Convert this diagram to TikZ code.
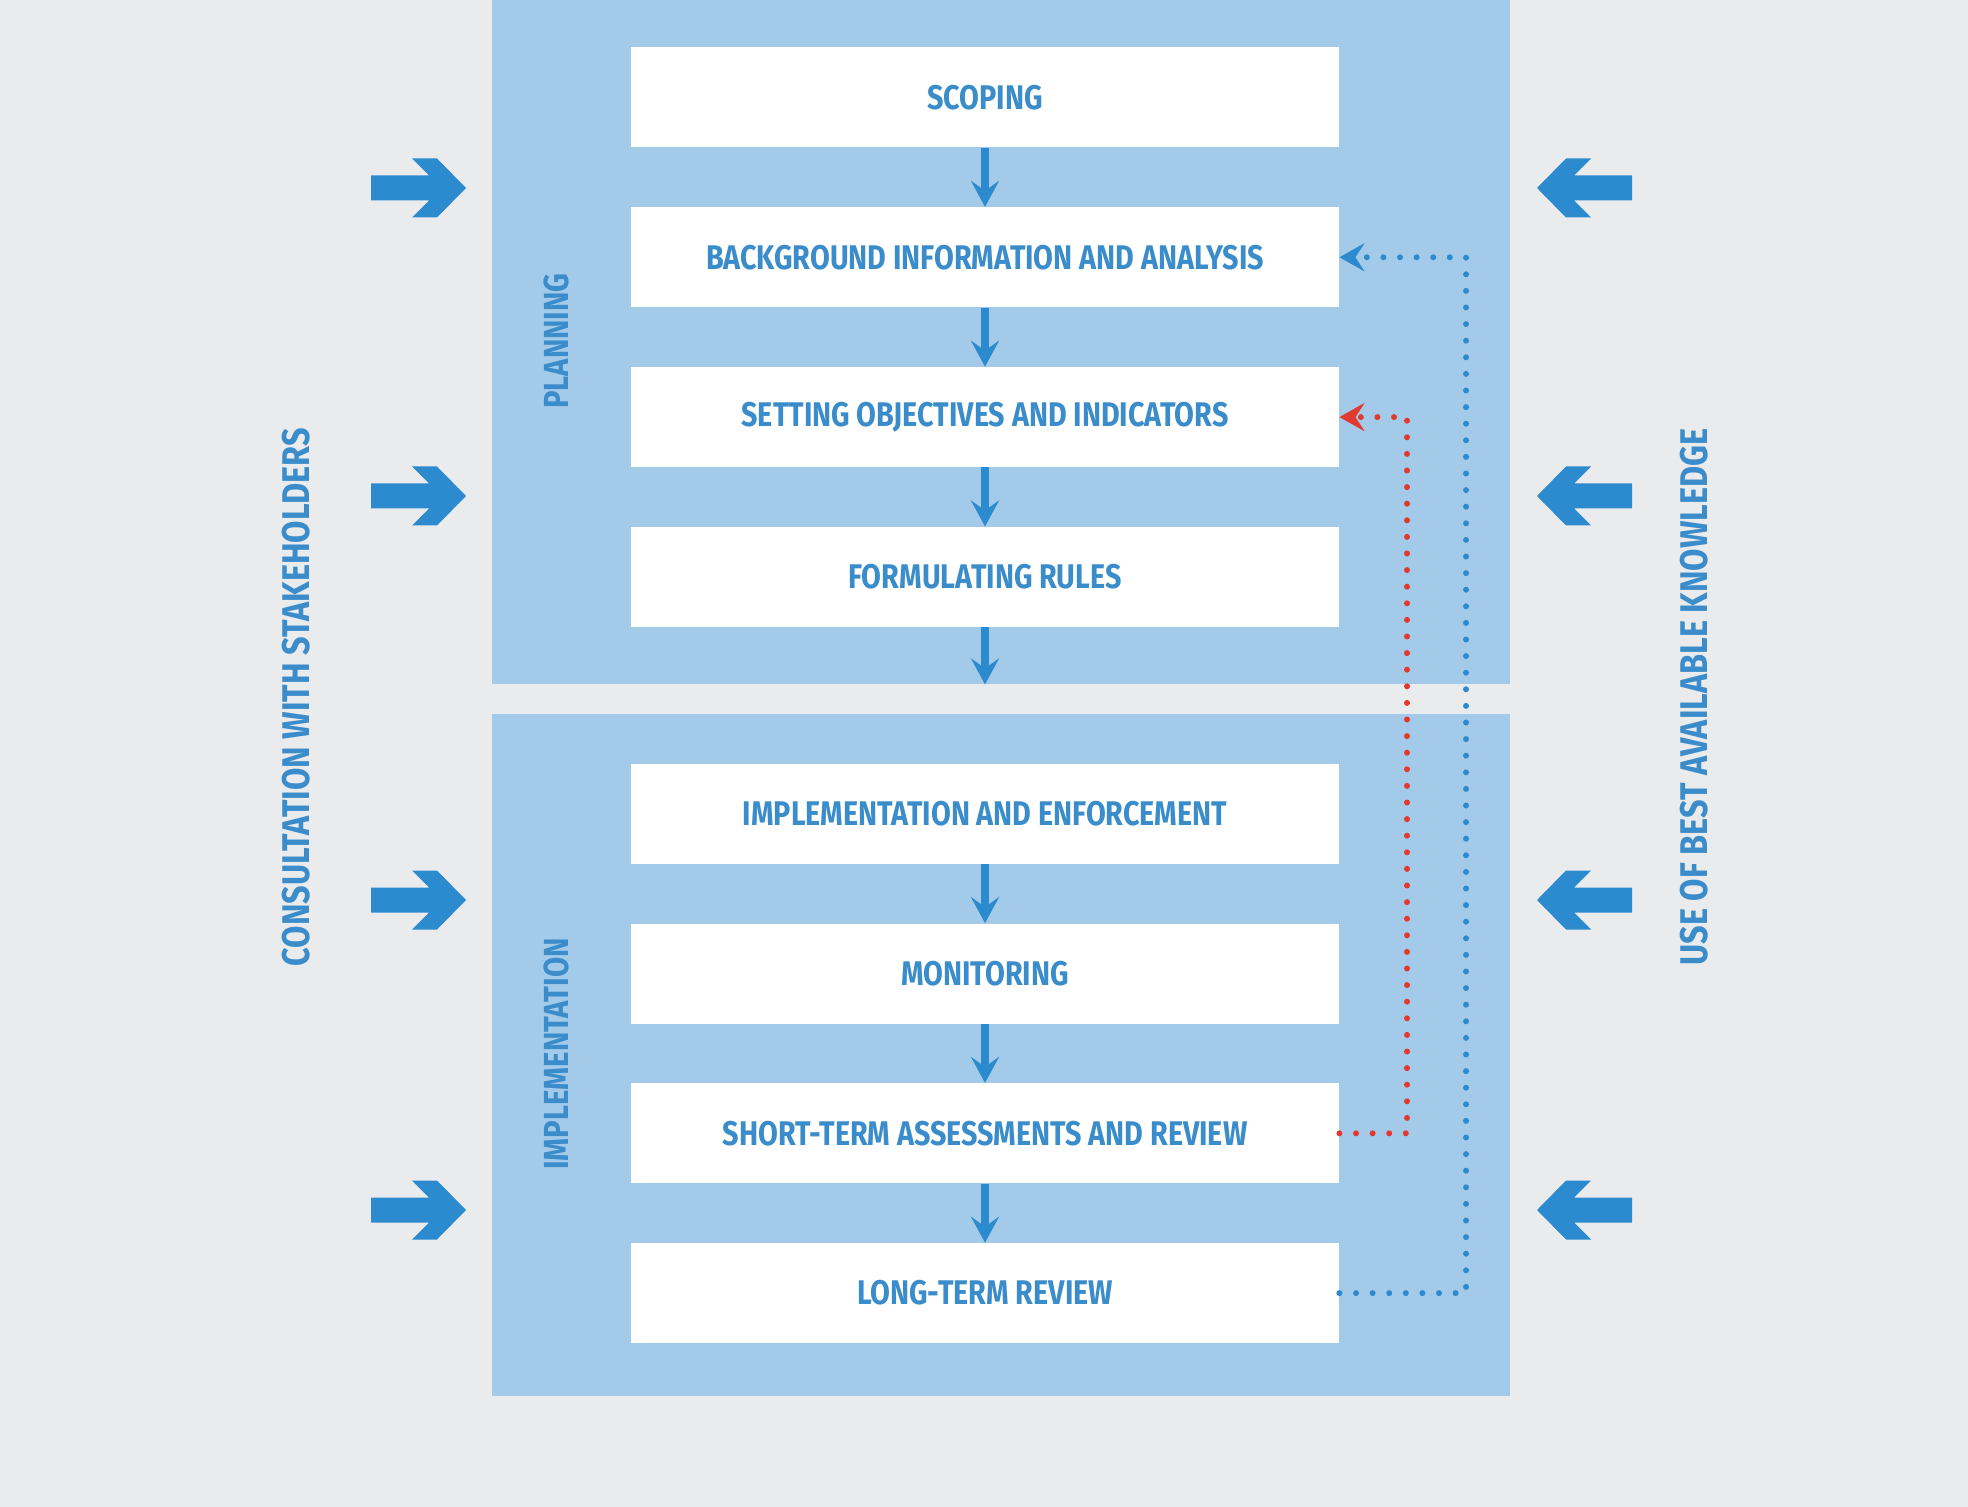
\documentclass[tikz,border=0pt]{standalone}
\usepackage{fontspec}
\setmainfont{Fira Sans}[FakeStretch=0.84]
\usetikzlibrary{arrows.meta, positioning}
\definecolor{pageGray}{HTML}{EAEBED}
\definecolor{panelBlue}{HTML}{A4CAE9}
\definecolor{flowBlue}{HTML}{2C8ACF}
\definecolor{labelBlue}{HTML}{3A8CCB}
\definecolor{loopRed}{HTML}{E03A30}
\tikzset{
  stepBox/.style={rectangle, fill=white, text=labelBlue, inner sep=0pt,
                  minimum width=354pt, minimum height=50pt,
                  font=\fontsize{17.1}{19}\selectfont\bfseries},
  panel/.style={rectangle, fill=panelBlue, inner sep=0pt, minimum width=509pt},
  phaseLabel/.style={text=labelBlue, rotate=90, inner sep=0pt,
                     font=\fontsize{17.4}{19}\selectfont\bfseries},
  sideLabel/.style={text=labelBlue, rotate=90, inner sep=0pt,
                    font=\fontsize{19.3}{22}\selectfont\bfseries},
  flowArrow/.style={-{Stealth[length=13pt, width=14pt, inset=5pt]},
                    flowBlue, line width=4pt},
  dotsBlue/.style={-{Stealth[length=12.5pt, width=14pt, inset=4.5pt]}, draw=flowBlue,
                   line width=3pt, line cap=round, dash pattern=on 0pt off 8.3pt},
  dotsRed/.style={dotsBlue, draw=loopRed},
  fatArrow/.pic={
    \fill[flowBlue] (-95,-12.5) -- (-37,-12.5) -- (-54,-29.5) -- (-29,-29.5)
      -- (0,0) -- (-29,29.5) -- (-54,29.5) -- (-37,12.5) -- (-95,12.5) -- cycle;
  },
}
\begin{document}
\begin{tikzpicture}[x=0.5pt, y=-0.5pt, node distance=29.5pt]
  \useasboundingbox[fill=pageGray] (0,0) rectangle (1968,1507);
  % the two phases
  \node[panel, minimum height=342pt] (plan) at (1001,342) {};
  \node[panel, minimum height=341pt] (impl) at (1001,1055) {};
  \node[phaseLabel] (planLbl) at (556,341) {PLANNING};
  \node[phaseLabel] (implLbl) at (556,1054) {IMPLEMENTATION};
  % steps
  \node[stepBox] (scp) at (985,97.5) {SCOPING};
  \node[stepBox, below=of scp] (bgi) {BACKGROUND INFORMATION AND ANALYSIS};
  \node[stepBox, below=of bgi] (obj) {SETTING OBJECTIVES AND INDICATORS};
  \node[stepBox, below=of obj] (frm) {FORMULATING RULES};
  \node[stepBox, below=68pt of frm] (enf) {IMPLEMENTATION AND ENFORCEMENT};
  \node[stepBox, below=of enf] (mon) {MONITORING};
  \node[stepBox, below=of mon] (sta) {SHORT-TERM ASSESSMENTS AND REVIEW};
  \node[stepBox, below=of sta] (lng) {LONG-TERM REVIEW};
  \draw[flowArrow] (scp) -- (bgi); \draw[flowArrow] (bgi) -- (obj);
  \draw[flowArrow] (obj) -- (frm); \draw[flowArrow] (frm) -- (frm |- plan.south);
  \draw[flowArrow] (enf) -- (mon); \draw[flowArrow] (mon) -- (sta);
  \draw[flowArrow] (sta) -- (lng);
  % feedback loops
  \coordinate (redRun) at (1407,0);
  \coordinate (blueRun) at (1466,0);
  \draw[dotsRed] (sta.east) -| (redRun |- obj.east) -- (obj.east);
  \draw[dotsBlue] (lng.east) -| (blueRun |- bgi.east) -- (bgi.east);
  % inputs from both sides
  \foreach \y in {188,496,900,1210} {
    \pic at (466,\y) {fatArrow};
    \pic[xscale=-1] at (1537,\y) {fatArrow};
  }
  \node[sideLabel] (cons) at (296,697) {CONSULTATION WITH STAKEHOLDERS};
  \node[sideLabel] (know) at (1694,697) {USE OF BEST AVAILABLE KNOWLEDGE};
\end{tikzpicture}
\end{document}
